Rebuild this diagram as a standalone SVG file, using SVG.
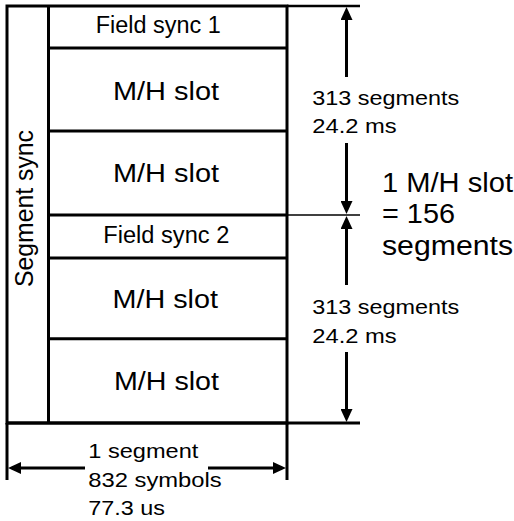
<svg xmlns="http://www.w3.org/2000/svg" width="514" height="521" viewBox="0 0 514 521">
<style>
.ln{stroke:#000;stroke-width:3;fill:none}
.thin{stroke:#000;stroke-width:2;fill:none}
.t{font-family:"Liberation Sans",Arial,Helvetica,sans-serif;fill:#000}
.fs{font-size:23px}
.mh{font-size:26.5px}
.dim{font-size:20.5px}
.big{font-size:27px}
.bot{font-size:21px}
</style>
<defs>
<marker id="ah" viewBox="0 0 13 12" markerWidth="13" markerHeight="12" refX="9" refY="6" orient="auto-start-reverse" markerUnits="userSpaceOnUse"><path d="M0,0 L13,6 L0,12 z" fill="#000"/></marker>
</defs>
<rect width="514" height="521" fill="#fff"/>

<g id="frame">
<rect class="ln" x="7" y="6" width="280" height="417"/>
</g>
<g id="segment-sync">
<line class="ln" x1="48.5" y1="6" x2="48.5" y2="423"/>
<text class="t" font-size="25" x="33.3" y="208.5" text-anchor="middle" transform="rotate(-90 33.3 208.5)" textLength="157" lengthAdjust="spacingAndGlyphs">Segment sync</text>
</g>
<g id="field-sync-1">
<line class="ln" x1="48.5" y1="48" x2="287" y2="48"/>
<text class="t fs" x="95.7" y="32.8" textLength="125" lengthAdjust="spacingAndGlyphs">Field sync 1</text>
</g>
<g id="mh-slot-1">
<line class="ln" x1="48.5" y1="131" x2="287" y2="131"/>
<text class="t mh" x="113" y="100" textLength="106" lengthAdjust="spacingAndGlyphs">M/H slot</text>
</g>
<g id="mh-slot-2">
<line class="ln" x1="48.5" y1="215" x2="287" y2="215"/>
<text class="t mh" x="113" y="181.7" textLength="106" lengthAdjust="spacingAndGlyphs">M/H slot</text>
</g>
<g id="field-sync-2">
<line class="ln" x1="48.5" y1="258" x2="287" y2="258"/>
<text class="t fs" x="103.3" y="243.3" textLength="126" lengthAdjust="spacingAndGlyphs">Field sync 2</text>
</g>
<g id="mh-slot-3">
<line class="ln" x1="48.5" y1="338.7" x2="287" y2="338.7"/>
<text class="t mh" x="112.5" y="308.3" textLength="105.5" lengthAdjust="spacingAndGlyphs">M/H slot</text>
</g>
<g id="mh-slot-4">
<text class="t mh" x="114" y="390" textLength="105" lengthAdjust="spacingAndGlyphs">M/H slot</text>
</g>

<g id="connectors">
<line class="ln" x1="287" y1="6" x2="360" y2="6" style="stroke-width:2.5"/>
<line class="thin" x1="287" y1="215" x2="360" y2="215" style="stroke-width:1.6"/>
<line class="ln" x1="7" y1="423" x2="360" y2="423"/>
<line class="ln" x1="7" y1="423" x2="7" y2="480"/>
<line class="ln" x1="287" y1="423" x2="287" y2="480"/>
<line class="ln" x1="346.5" y1="11" x2="346.5" y2="77" marker-start="url(#ah)"/>
<line class="ln" x1="346.5" y1="143" x2="346.5" y2="210" marker-end="url(#ah)"/>
<line class="ln" x1="346.5" y1="220" x2="346.5" y2="285" marker-start="url(#ah)"/>
<line class="ln" x1="346.5" y1="352" x2="346.5" y2="418" marker-end="url(#ah)"/>
<line class="ln" x1="12" y1="468" x2="85" y2="468" marker-start="url(#ah)"/>
<line class="ln" x1="208" y1="468" x2="282" y2="468" marker-end="url(#ah)"/>
</g>

<g id="labels">
<text class="t dim" x="312.3" y="104.5" textLength="147" lengthAdjust="spacingAndGlyphs">313 segments</text>
<text class="t dim" x="312.3" y="133" textLength="84.4" lengthAdjust="spacingAndGlyphs">24.2 ms</text>
<text class="t dim" x="312.3" y="314" textLength="147" lengthAdjust="spacingAndGlyphs">313 segments</text>
<text class="t dim" x="312.3" y="342.5" textLength="84.4" lengthAdjust="spacingAndGlyphs">24.2 ms</text>
<text class="t big" x="382" y="191.7" textLength="131" lengthAdjust="spacingAndGlyphs">1 M/H slot</text>
<text class="t big" x="382" y="222.9" textLength="73" lengthAdjust="spacingAndGlyphs">= 156</text>
<text class="t big" x="382" y="254.8" textLength="131" lengthAdjust="spacingAndGlyphs">segments</text>
<text class="t bot" x="88.3" y="458.3" textLength="110" lengthAdjust="spacingAndGlyphs">1 segment</text>
<text class="t bot" x="88.3" y="486.5" textLength="133.4" lengthAdjust="spacingAndGlyphs">832 symbols</text>
<text class="t bot" x="88.3" y="514.5" textLength="76.7" lengthAdjust="spacingAndGlyphs">77.3 us</text>
</g>
</svg>
